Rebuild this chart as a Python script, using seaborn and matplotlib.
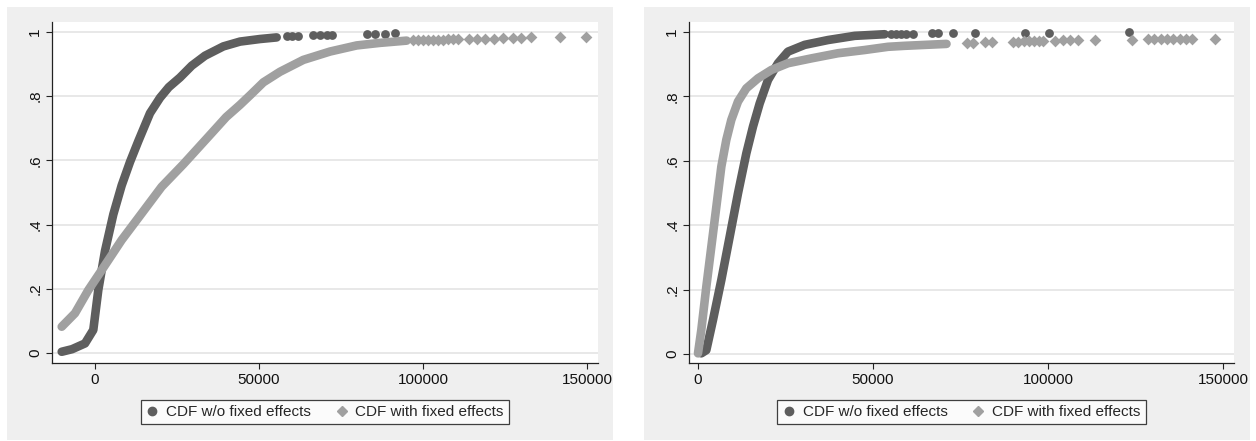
import matplotlib
matplotlib.use("Agg")
import matplotlib.pyplot as plt
from matplotlib.patches import Rectangle
from matplotlib.lines import Line2D
import seaborn as sns
import pandas as pd

# colours (Stata s2mono look)
DARK = "#5e5e5e"
LIGHT = "#a0a0a0"
PANEL = "#efefef"
GRID = "#e6e6e6"

# ---- left panel: dense part of each CDF ----
left_nofe_x = [-10150, -7000, -3050, -520, 1000, 3050, 5590, 8130, 10670, 13210,
               16770, 19820, 22500, 25900, 29500, 33540, 39130, 44210, 50300, 55390]
left_nofe_y = [0.004, 0.012, 0.030, 0.072, 0.196, 0.318, 0.432, 0.522, 0.595, 0.66,
               0.747, 0.795, 0.828, 0.858, 0.895, 0.926, 0.955, 0.970, 0.978, 0.983]
left_fe_x = [-10150, -6100, -2040, 2030, 8130, 14240, 20330, 26930, 32010, 35570,
             40000, 44210, 47500, 51320, 56400, 63510, 71650, 79780, 86890, 95020]
left_fe_y = [0.082, 0.124, 0.196, 0.258, 0.352, 0.435, 0.518, 0.588, 0.645, 0.685,
             0.735, 0.773, 0.805, 0.843, 0.876, 0.913, 0.939, 0.958, 0.966, 0.973]
# ---- left panel: sparse tail markers ----
left_nofe_tail_x = [58440, 60200, 62000, 66500, 68600, 70600, 72150, 82800, 85400, 88400,
                    91500]
left_nofe_tail_y = [0.986, 0.987, 0.988, 0.989, 0.990, 0.990, 0.991, 0.993, 0.994, 0.995,
                    0.996]
left_fe_tail_x = [97000, 98500, 100000, 101500, 103000, 104500, 106000, 107500, 109000,
                  110800, 114000, 116500, 119000, 121500, 124300, 127500, 130000, 132800,
                  141800, 149600]
left_fe_tail_y = [0.975, 0.975, 0.975, 0.976, 0.976, 0.976, 0.976, 0.977, 0.977,
                  0.977, 0.978, 0.978, 0.978, 0.979, 0.980, 0.981, 0.982, 0.983,
                  0.984, 0.985]

# ---- right panel: dense part ----
right_nofe_x = [950, 2380, 4290, 6670, 9050, 11430, 13810, 15710, 17620, 20000, 22860,
                25710, 30480, 37140, 44770, 53340]
right_nofe_y = [0.002, 0.012, 0.106, 0.23, 0.364, 0.499, 0.623, 0.706, 0.778, 0.851, 0.903,
                0.939, 0.96, 0.975, 0.988, 0.993]
right_fe_x = [0, 950, 2380, 3810, 5240, 6670, 8090, 9520, 11430, 13810, 17140, 20950,
              25710, 32380, 40000, 47620, 54290, 59000, 65000, 71000]
right_fe_y = [0.002, 0.075, 0.209, 0.333, 0.457, 0.582, 0.665, 0.727, 0.784, 0.825, 0.856,
              0.882, 0.903, 0.918, 0.934, 0.944, 0.954, 0.957, 0.960, 0.963]
# ---- right panel: sparse tail markers ----
right_nofe_tail_x = [55000, 56500, 58000, 59500, 61400, 66800, 68700, 72900, 79100,
                     93400, 100300, 123100]
right_nofe_tail_y = [0.994, 0.994, 0.995, 0.995, 0.995, 0.996, 0.996, 0.996, 0.997,
                     0.997, 0.998, 0.999]
right_fe_tail_x = [76800, 78700, 82000, 83900, 90000, 91500, 93000, 94500, 96000, 97500,
                   98600, 102000, 104400, 106300, 108700, 113400, 123900, 128600, 130400,
                   132200, 134000, 135800, 137600, 139400, 141100, 147700]
right_fe_tail_y = [0.967, 0.967, 0.968, 0.968, 0.970, 0.970, 0.971, 0.971, 0.972, 0.972,
                   0.973, 0.973, 0.974, 0.974, 0.975, 0.975, 0.976, 0.977, 0.977,
                   0.977, 0.977, 0.977, 0.978, 0.978, 0.978, 0.979]

labels = ["CDF w/o fixed effects", "CDF with fixed effects"]
yticks = [0, 0.2, 0.4, 0.6, 0.8, 1]
yticklabels = ["0", ".2", ".4", ".6", ".8", "1"]
xticks = [0, 50000, 100000, 150000]

sns.set_style("white")
plt.rcParams['font.family'] = ['Liberation Sans', 'DejaVu Sans']

W, H = 1256, 441
fig = plt.figure(figsize=(W / 100, H / 100), dpi=100)
fig.patch.set_facecolor("white")

# gray background panels (pixel boxes: x0, y0, x1, y1)
for x0, y0, x1, y1 in [(7, 7, 613, 440), (644, 7, 1250, 440)]:
    fig.add_artist(Rectangle((x0 / W, 1 - y1 / H), (x1 - x0) / W, (y1 - y0) / H,
                             transform=fig.transFigure, facecolor=PANEL,
                             edgecolor="none", zorder=-5))


def draw_panel(rect, xlim, ylim, cx1, cy1, cx2, cy2, tx1, ty1, tx2, ty2):
    x0, y0, x1, y1 = rect
    ax = fig.add_axes([x0 / W, 1 - y1 / H, (x1 - x0) / W, (y1 - y0) / H])
    ax.set_zorder(2)
    ax.set_facecolor("white")
    ax.set_axisbelow(True)
    for yv in yticks:
        ax.axhline(yv, color=GRID, lw=1.3, zorder=0)

    d1 = pd.DataFrame({"x": cx1, "y": cy1})
    d2 = pd.DataFrame({"x": cx2, "y": cy2})
    sns.lineplot(data=d1, x="x", y="y", ax=ax, color=DARK, lw=6.2, sort=False,
                 estimator=None, solid_capstyle="round", solid_joinstyle="round", zorder=3)
    sns.scatterplot(x=tx1, y=ty1, ax=ax, color=DARK, marker="o", s=40, linewidth=0, zorder=3)
    sns.lineplot(data=d2, x="x", y="y", ax=ax, color=LIGHT, lw=6.2, sort=False,
                 estimator=None, solid_capstyle="round", solid_joinstyle="round", zorder=4)
    sns.scatterplot(x=tx2, y=ty2, ax=ax, color=LIGHT, marker="D", s=36, linewidth=0, zorder=4)

    ax.set_xlim(*xlim)
    ax.set_ylim(*ylim)
    ax.set_xticks(xticks)
    ax.set_xticklabels([str(v) for v in xticks])
    ax.set_yticks(yticks)
    ax.set_yticklabels(yticklabels, rotation=90, va="center")
    ax.set_xlabel("")
    ax.set_ylabel("")
    for s in ["top", "right"]:
        ax.spines[s].set_visible(False)
    for s in ["left", "bottom"]:
        ax.spines[s].set_color("#222222")
        ax.spines[s].set_linewidth(0.9)
    ax.tick_params(axis="both", direction="out", length=4, width=0.8, color="#222222",
                   labelsize=11, labelcolor="#111111", pad=3, left=True, bottom=True)

    handles = [Line2D([], [], ls="none", marker="o", color=DARK, markersize=6),
               Line2D([], [], ls="none", marker="D", color=LIGHT, markersize=5.5)]
    leg = ax.legend(handles, labels, loc="center", bbox_to_anchor=(0.5, -0.144), ncol=2,
                    frameon=True, fancybox=False, fontsize=11, handlelength=0.8,
                    handletextpad=0.5, columnspacing=1.6, borderpad=0.35)
    leg.get_frame().set_edgecolor("#111111")
    leg.get_frame().set_linewidth(0.9)
    return ax


draw_panel((52, 22, 598, 363), (-13110, 153350), (-0.031, 1.031),
           left_nofe_x, left_nofe_y, left_fe_x, left_fe_y,
           left_nofe_tail_x, left_nofe_tail_y, left_fe_tail_x, left_fe_tail_y)
draw_panel((689, 22, 1234, 363), (-2571, 153140), (-0.028, 1.031),
           right_nofe_x, right_nofe_y, right_fe_x, right_fe_y,
           right_nofe_tail_x, right_nofe_tail_y, right_fe_tail_x, right_fe_tail_y)

fig.savefig("out.png", dpi=100)
